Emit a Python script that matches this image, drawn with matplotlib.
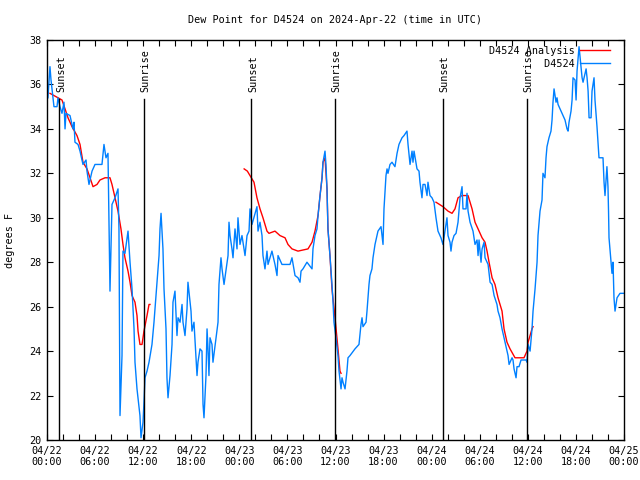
import numpy as np
import matplotlib
matplotlib.use("Agg")
import matplotlib.pyplot as plt

# hours since 2024-04-22 00:00 UTC
obs_hours = [0.12, 0.37, 0.5, 0.62, 0.87, 1.25, 1.37, 1.62, 1.87, 2.12, 2.25, 2.37, 2.87, 3.24, 3.37, 3.49,
             3.87, 4.12, 4.49, 4.87, 4.99, 5.24, 5.62, 5.99, 6.86, 7.11, 7.36, 7.61, 7.74, 7.86, 8.11, 8.49,
             8.86, 8.98, 9.11, 9.36, 9.48, 9.73, 10.11, 10.36, 10.61, 10.86, 10.98, 11.23, 11.6, 11.73, 11.98,
             12.1, 12.23, 12.48, 12.73, 13.1, 13.35, 13.73, 13.98, 14.1, 14.23, 14.47, 14.6, 14.85, 14.97,
             15.1, 15.35, 15.6, 15.72, 15.97, 16.22, 16.35, 16.6, 16.85, 16.97, 17.22, 17.47, 17.59, 17.97,
             18.09, 18.34, 18.59, 18.72, 18.84, 19.09, 19.34, 19.47, 19.59, 19.84, 19.97, 20.09, 20.21, 20.34,
             20.59, 20.71, 21.34, 21.46, 21.71, 21.84, 22.09, 22.59, 22.71, 22.84, 23.08, 23.21, 23.46, 23.71,
             23.83, 24.08, 24.33, 24.71, 24.96, 25.21, 25.33, 25.58, 25.96, 26.2, 26.33, 26.58, 26.83, 26.95,
             27.2, 27.45, 27.58, 28.07, 28.45, 28.7, 28.83, 29.32, 30.32, 30.57, 30.95, 31.32, 31.57, 31.7,
             31.94, 32.44, 33.07, 33.19, 33.44, 33.69, 33.82, 34.07, 34.32, 34.44, 34.69, 34.81, 34.94, 35.06,
             35.31, 35.56, 35.69, 35.81, 36.06, 36.31, 36.44, 36.69, 36.81, 36.94, 37.19, 37.43, 37.56, 37.81,
             38.43, 38.68, 38.93, 39.18, 39.31, 39.43, 39.81, 39.93, 40.06, 40.18, 40.3, 40.55, 40.68, 40.93,
             41.18, 41.3, 41.68, 41.8, 41.93, 42.05, 42.3, 42.43, 42.55, 42.8, 43.05, 43.42, 43.68, 43.92,
             44.3, 44.55, 44.92, 45.05, 45.3, 45.55, 45.67, 45.8, 46.17, 46.42, 46.54, 46.79, 46.92, 47.17,
             47.42, 47.54, 47.79, 48.04, 48.29, 48.54, 48.79, 49.16, 49.41, 49.66, 49.91, 50.04, 50.29, 50.41,
             50.54, 50.79, 51.04, 51.29, 51.54, 51.79, 51.91, 52.29, 52.41, 52.54, 52.79, 53.16, 53.41, 53.66,
             53.79, 53.91, 54.16, 54.29, 54.54, 54.66, 55.04, 55.29, 55.54, 55.79, 56.15, 56.28, 56.53, 56.78,
             57.03, 57.28, 57.53, 57.66, 58.03, 58.15, 58.28, 58.53, 58.65, 58.9, 59.15, 59.78, 59.9, 60.03,
             60.28, 60.52, 60.65, 60.9, 61.15, 61.27, 61.52, 61.77, 61.89, 62.14, 62.27, 62.39, 62.64, 62.89,
             63.02, 63.14, 63.27, 63.52, 63.64, 63.77, 64.02, 64.27, 64.39, 64.64, 64.89, 65.02, 65.14, 65.39,
             65.52, 65.64, 65.89, 66.02, 66.14, 66.27, 66.39, 66.64, 66.77, 66.89, 67.14, 67.27, 67.39, 67.52,
             67.64, 67.89, 68.01, 68.26, 68.38, 68.63, 68.76, 68.88, 69.38, 69.51, 69.63, 69.87, 70.0, 70.07,
             70.13, 70.38, 70.5, 70.63, 70.75, 70.88, 71.13, 71.5, 72.0]
obs_dewpt = [35.4, 36.8, 36.2, 35.8, 35.0, 35.0, 35.4, 35.0, 34.7, 35.2, 34.0, 34.7, 34.6, 34.0, 34.3, 33.4,
             33.3, 33.0, 32.4, 32.6, 32.1, 31.5, 32.1, 32.4, 32.4, 33.3, 32.7, 32.9, 29.5, 26.7, 30.6, 30.9,
             31.3, 29.5, 21.1, 23.8, 28.5, 28.4, 29.4, 28.0, 26.8, 25.0, 23.5, 22.3, 21.1, 20.1, 20.8,
             21.7, 22.8, 23.1, 23.5, 24.3, 25.3, 27.1, 28.3, 29.5, 30.2, 28.6, 26.8, 25.0, 22.8,
             21.9, 22.9, 24.3, 26.2, 26.7, 24.7, 25.5, 25.3, 26.1, 25.3, 24.7, 25.9, 27.1, 25.8,
             24.9, 25.3, 23.7, 22.9, 23.5, 24.1, 24.0, 21.6, 21.0, 22.9, 25.0, 24.1, 22.9, 24.6,
             24.3, 23.5, 25.3, 27.0, 28.2, 27.7, 27.0, 28.3, 29.8, 29.2, 28.6, 28.2, 29.5, 28.6,
             30.0, 28.8, 29.2, 28.3, 29.2, 29.4, 30.4, 29.7, 30.2, 30.5, 29.4, 29.8, 29.2, 28.3,
             27.7, 28.5, 27.9, 28.5, 27.9, 27.4, 28.3, 27.9, 27.9, 28.2, 27.4, 27.3, 27.1, 27.6,
             27.7, 28.0, 27.7, 28.6, 29.2, 29.5, 30.1, 31.0, 31.8, 32.5, 33.0, 32.4, 31.3, 29.5,
             28.3, 27.0, 26.2, 25.3, 24.6, 23.8, 23.1, 22.3, 22.8, 22.6, 22.3, 23.1, 23.7, 23.8,
             24.1, 24.2, 24.3, 25.2, 25.5, 25.1, 25.3, 25.8, 26.4, 27.0, 27.4, 27.7, 28.2, 28.8,
             29.2, 29.4, 29.6, 29.2, 28.8, 30.4, 31.9, 32.2, 32.0, 32.4, 32.5, 32.3, 32.9, 33.3,
             33.6, 33.7, 33.9, 33.3, 32.4, 33.0, 32.5, 33.0, 32.2, 32.1, 31.6, 30.9, 31.5, 31.5,
             31.0, 31.6, 31.0, 30.9, 30.7, 30.0, 29.4, 29.1, 28.8, 29.4, 30.0, 29.2, 28.9, 28.5,
             28.9, 29.2, 29.3, 29.8, 30.9, 31.4, 30.4, 30.4, 31.1, 30.3, 29.8, 29.4, 28.8, 29.0,
             28.3, 29.0, 28.0, 28.6, 28.9, 28.2, 27.9, 27.1, 27.0, 26.5, 26.1, 25.8, 25.5, 25.0,
             24.6, 24.2, 23.8, 23.4, 23.7, 23.6, 23.2, 22.8, 23.3, 23.3, 23.6, 23.6, 23.5, 24.3,
             24.0, 25.0, 25.8, 26.8, 28.0, 29.2, 30.3, 30.8, 32.0, 31.8, 32.7, 33.2, 33.6, 33.9,
             34.4, 35.2, 35.8, 35.2, 35.4, 35.1, 34.9, 34.7, 34.6, 34.4, 34.0, 33.9, 34.3, 34.8,
             35.3, 36.3, 36.2, 35.3, 36.6, 37.2, 37.7, 36.8, 36.3, 36.1, 36.5, 36.7, 36.3, 35.7,
             34.5, 34.5, 35.7, 36.3, 35.3, 34.1, 33.4, 32.7, 32.7, 31.6, 31.0, 32.3, 31.4, 30.3,
             29.1, 28.0, 27.5, 28.0, 26.4, 25.8, 26.4, 26.6, 26.6]

# analysis (NaN = gap between the three runs)
ana_hours = [0.37, 1.37, 1.87, 2.25, 2.62, 3.12, 3.74, 4.12, 4.49, 4.99, 5.37, 5.74, 6.24, 6.61, 7.24, 7.86,
             8.11, 8.49, 8.86, 9.23, 9.48, 9.73, 10.11, 10.36, 10.61, 10.98, 11.23, 11.36, 11.6, 11.86, 12.1,
             12.48, 12.73, 12.85, 18.0,
             24.6, 25.0, 25.33, 25.83, 26.2, 26.58, 26.95, 27.45, 27.7, 28.45, 29.07, 29.7, 30.07, 30.57,
             31.32, 32.57, 33.07, 33.44, 33.82, 34.07, 34.32, 34.44, 34.69, 34.94, 35.06, 35.31, 35.56,
             35.94, 36.31, 36.56, 36.69, 42.0,
             48.54, 49.41, 50.04, 50.54, 50.91, 51.29, 51.79, 52.54, 53.04, 53.41, 53.79, 54.29, 54.66,
             54.91, 55.16, 55.54, 55.9, 56.28, 56.78, 57.03, 57.4, 57.78, 58.4, 59.02, 59.52, 59.9, 60.03,
             60.28, 60.52, 60.65]
ana_dewpt = [35.6, 35.4, 35.3, 34.9, 34.5, 34.1, 33.7, 33.3, 32.5, 32.2, 31.8, 31.4, 31.5, 31.7, 31.8, 31.8,
             31.5, 30.9, 30.3, 29.5, 28.8, 28.2, 27.6, 27.1, 26.5, 26.2, 25.6, 24.9, 24.3, 24.3, 24.9,
             25.6, 26.1, 26.1, np.nan,
             32.2, 32.1, 31.9, 31.6, 30.9, 30.4, 30.0, 29.4, 29.3, 29.4, 29.2, 29.1, 28.8, 28.6,
             28.5, 28.6, 28.9, 29.4, 30.1, 31.0, 31.8, 32.5, 32.7, 31.3, 29.5, 28.3, 26.8,
             25.5, 24.1, 23.1, 23.0, np.nan,
             30.7, 30.5, 30.3, 30.2, 30.4, 30.9, 31.0, 31.0, 30.4, 29.8, 29.5, 29.1, 28.9,
             28.5, 28.0, 27.3, 27.0, 26.4, 25.8, 25.0, 24.4, 24.1, 23.7, 23.7, 23.7, 24.0, 24.4,
             24.7, 25.0, 25.1]

sun_events = ["Sunset", "Sunrise", "Sunset", "Sunrise", "Sunset", "Sunrise"]
sun_hours = [1.55, 12.1, 25.5, 35.95, 49.4, 59.9]

tick_labels = ["04/22\n00:00", "04/22\n06:00", "04/22\n12:00", "04/22\n18:00",
               "04/23\n00:00", "04/23\n06:00", "04/23\n12:00", "04/23\n18:00",
               "04/24\n00:00", "04/24\n06:00", "04/24\n12:00", "04/24\n18:00", "04/25\n00:00"]

plt.rcParams['font.family'] = ['DejaVu Sans Mono']
plt.rcParams['font.size'] = 7.3

fig = plt.figure(figsize=(6.4, 4.8), dpi=100)
ax = fig.add_axes([47 / 640, 40 / 480, 577 / 640, 400 / 480])

ax.plot(ana_hours, ana_dewpt, color='#ff0000', lw=1.0, label='D4524 Analysis')
ax.plot(obs_hours, obs_dewpt, color='#0080ff', lw=1.0, label='         D4524')

for name, h in zip(sun_events, sun_hours):
    ax.axvline(h, ymin=0, ymax=0.853, color='black', lw=1.0)
    ax.text(h + 0.2, 0.87, name, transform=ax.get_xaxis_transform(), rotation=90,
            ha='center', va='bottom')

ax.set_xlim(0, 72)
ax.set_ylim(20, 38)
ax.set_xticks(np.arange(0, 73, 2))
ax.set_xticklabels([tick_labels[i // 6] if i % 6 == 0 else '' for i in range(0, 73, 2)])
ax.set_yticks(np.arange(20, 39, 2))
ax.tick_params(direction='in', length=4, width=0.8, top=True, right=True, pad=4)
for s in ax.spines.values():
    s.set_linewidth(1.0)

ax.set_ylabel('degrees F', labelpad=10)
ax.set_title('Dew Point for D4524 on 2024-Apr-22 (time in UTC)', pad=12, fontsize=7.3)

# legend in the top-right corner, line sample after the text
ax.legend(loc='upper right', bbox_to_anchor=(0.976, 0.985), frameon=False, markerfirst=False,
          handlelength=3.0, borderaxespad=0, borderpad=0, labelspacing=0.25, handletextpad=0.5)

fig.savefig('out.png', dpi=100)
